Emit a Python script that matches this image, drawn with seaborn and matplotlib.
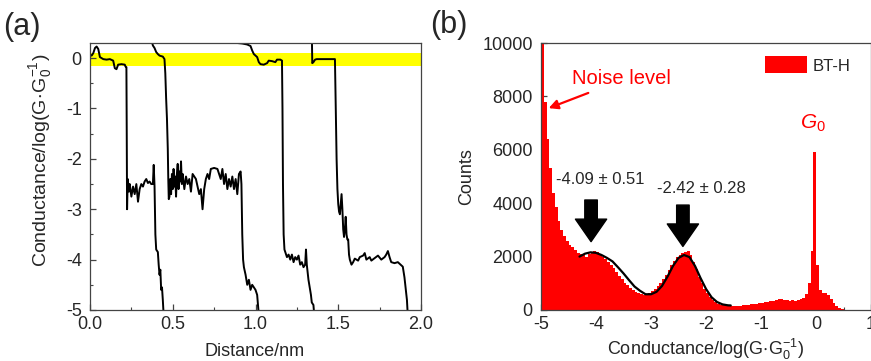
import numpy as np
import pandas as pd
import seaborn as sns
import matplotlib.pyplot as plt
from matplotlib.ticker import MultipleLocator

# --- (a) single traces: distance (nm) vs log(G/G0) ---
trace1_x = [0.00, 0.01, 0.02, 0.03, 0.04, 0.05, 0.06, 0.08, 0.10, 0.12, 0.14, 0.15, 0.16, 0.17, 0.19,
            0.21, 0.215, 0.22, 0.222, 0.224, 0.228, 0.235, 0.24, 0.25, 0.26, 0.27, 0.28, 0.29, 0.30,
            0.31, 0.32, 0.33, 0.34, 0.35, 0.36, 0.37, 0.38, 0.385, 0.39, 0.395, 0.40, 0.41, 0.415,
            0.42, 0.425, 0.43, 0.435, 0.44, 0.445]
trace1_y = [0.07, 0.05, 0.10, 0.20, 0.23, 0.18, 0.02, -0.02, -0.03, -0.02, -0.05, -0.20, -0.22, -0.13, -0.12,
            -0.13, -0.17, -0.18, -1.5, -3.0, -2.4, -2.65, -2.5, -2.75, -2.55, -2.7, -2.5, -2.85, -2.6,
            -2.5, -2.55, -2.45, -2.40, -2.48, -2.45, -2.50, -2.50, -2.12, -2.55, -3.5, -3.8, -3.85, -4.1,
            -4.3, -4.2, -4.6, -4.55, -4.8, -5.1]

trace2_x = [0.372, 0.38, 0.39, 0.40, 0.41, 0.42, 0.44, 0.45, 0.455, 0.46, 0.465, 0.47, 0.473, 0.476,
            0.48, 0.485, 0.49, 0.495, 0.50, 0.505, 0.51, 0.515, 0.52, 0.525, 0.53, 0.535, 0.54, 0.545,
            0.55, 0.555, 0.56, 0.57, 0.58, 0.59, 0.60, 0.61, 0.62, 0.63, 0.64, 0.65, 0.66, 0.67, 0.68,
            0.69, 0.70, 0.71, 0.72, 0.73, 0.75, 0.77, 0.78, 0.79, 0.80, 0.81, 0.82, 0.83, 0.84, 0.85,
            0.86, 0.87, 0.88, 0.89, 0.90, 0.91, 0.915, 0.92, 0.925, 0.93, 0.94, 0.95, 0.96, 0.97, 0.98,
            0.99, 1.00, 1.01, 1.015, 1.02]
trace2_y = [0.35, 0.25, 0.20, 0.12, 0.08, 0.05, 0.03, -0.02, -0.3, -0.8, -1.2, -1.8, -2.4, -2.8,
            -2.75, -2.4, -2.7, -2.3, -2.6, -2.2, -2.55, -2.35, -2.75, -2.3, -2.1, -2.6, -2.25, -2.45,
            -2.05, -2.5, -2.3, -2.6, -2.35, -2.5, -2.4, -2.65, -2.3, -2.35, -2.4, -2.55, -2.7, -2.6, -3.0,
            -2.6, -2.4, -2.3, -2.4, -2.2, -2.18, -2.2, -2.3, -2.4, -2.2, -2.5, -2.3, -2.6, -2.4, -2.55,
            -2.35, -2.6, -2.4, -2.7, -2.3, -2.25, -2.5, -3.5, -4.0, -4.15, -4.3, -4.5, -4.4, -4.6, -4.5,
            -4.55, -4.6, -4.7, -4.9, -5.1]

trace3_x = [0.86, 0.89, 0.92, 0.95, 0.97, 0.98, 0.99, 1.00, 1.01, 1.02, 1.03, 1.05, 1.07, 1.08, 1.10,
            1.12, 1.13, 1.15, 1.16, 1.163, 1.166, 1.17, 1.175, 1.18, 1.19, 1.20, 1.21, 1.22, 1.23, 1.24,
            1.25, 1.26, 1.27, 1.28, 1.29, 1.30, 1.305, 1.31, 1.315, 1.32, 1.33, 1.335, 1.34, 1.35, 1.355]
trace3_y = [0.32, 0.30, 0.29, 0.27, 0.24, 0.15, 0.08, 0.05, 0.02, -0.08, -0.12, -0.13, -0.10, -0.05, -0.06,
            -0.08, -0.03, -0.03, -0.05, -1.0, -2.5, -3.5, -3.8, -3.85, -3.95, -3.9, -4.0, -3.9, -4.05, -3.95,
            -4.0, -3.92, -4.1, -4.05, -4.15, -4.1, -3.8, -4.1, -4.25, -4.4, -4.6, -4.7, -4.85, -4.9, -5.1]

trace4_x = [1.341, 1.343, 1.35, 1.36, 1.37, 1.40, 1.43, 1.46, 1.48, 1.485, 1.49, 1.495, 1.50, 1.505,
            1.51, 1.52, 1.525, 1.53, 1.535, 1.54, 1.545, 1.55, 1.555, 1.56, 1.565, 1.57, 1.58, 1.59,
            1.60, 1.62, 1.63, 1.65, 1.66, 1.67, 1.69, 1.70, 1.72, 1.74, 1.76, 1.78, 1.79, 1.80, 1.81,
            1.82, 1.84, 1.86, 1.87, 1.89, 1.90, 1.905, 1.91, 1.915, 1.92]
trace4_y = [0.35, -0.10, -0.08, -0.03, -0.02, -0.02, -0.02, -0.02, -0.02, -1.0, -2.0, -2.6, -2.9, -3.05,
            -3.1, -2.7, -3.0, -3.4, -3.55, -3.4, -3.15, -3.5, -3.6, -3.6, -3.9, -4.0, -4.1, -4.05,
            -3.98, -4.02, -3.95, -3.92, -3.87, -4.0, -3.95, -4.02, -3.97, -3.92, -4.0, -3.95, -3.9, -3.83, -3.95,
            -4.05, -4.07, -4.05, -4.08, -4.14, -4.35, -4.5, -4.65, -4.8, -5.1]

traces = [(trace1_x, trace1_y), (trace2_x, trace2_y), (trace3_x, trace3_y), (trace4_x, trace4_y)]

# --- (b) 1D conductance histogram, 120 bins of 0.05 from -5 to 1 ---
hist_counts = [
    10300, 7800, 6400, 5300, 4400, 3850, 3350, 3000, 2780, 2600,   # -5.0 .. -4.5
    2450, 2350, 2250, 2150, 2080, 2050, 2000, 2080, 2150, 2200,    # -4.5 .. -4.0
    2180, 2100, 2000, 1900, 1800, 1680, 1560, 1420, 1290, 1150,    # -4.0 .. -3.5
    1020, 920, 830, 740, 680, 640, 600, 580, 600, 620,             # -3.5 .. -3.0
    700, 800, 900, 1000, 1150, 1320, 1500, 1680, 1850, 1980,       # -3.0 .. -2.5
    2050, 2120, 2180, 2200, 2050, 1800, 1550, 1250, 1000, 800,     # -2.5 .. -2.0
    620, 480, 380, 300, 240, 200, 180, 170, 160, 150,              # -2.0 .. -1.5
    150, 150, 160, 170, 180, 200, 210, 220, 240, 260,              # -1.5 .. -1.0
    280, 300, 290, 330, 350, 380, 400, 410, 380, 360,              # -1.0 .. -0.5
    340, 360, 350, 370, 400, 450, 600, 1000, 2200, 5900,           # -0.5 .. 0.0
    1700, 750, 640, 620, 560, 430, 260, 140, 60, 30,               # 0.0 .. 0.5
    10, 5, 0, 0, 0, 0, 0, 0, 0, 0,                                 # 0.5 .. 1.0
]
hist_centers = np.round(np.arange(-4.975, 1.0, 0.05), 3)
hist_df = pd.DataFrame({'G': hist_centers, 'n': hist_counts})

# two-gaussian fit
fit_x = [-4.30, -4.20, -4.10, -4.00, -3.90, -3.80, -3.70, -3.60, -3.50, -3.40, -3.30, -3.20, -3.10,
         -3.00, -2.90, -2.80, -2.70, -2.60, -2.50, -2.40, -2.30, -2.20, -2.10, -2.00, -1.90, -1.80,
         -1.70, -1.60, -1.55]
fit_y = [2000, 2110, 2160, 2140, 2060, 1950, 1820, 1600, 1370, 1120, 880, 720, 590,
         590, 680, 900, 1250, 1650, 1950, 2060, 1980, 1650, 1200, 790, 480, 300,
         210, 175, 170]

peak_pos = [-4.09, -2.42]
peak_labels = ["-4.09 ± 0.51", "-2.42 ± 0.28"]

sns.set_style("ticks")
plt.rcParams['font.family'] = ['Liberation Sans', 'DejaVu Sans']
plt.rcParams['mathtext.fontset'] = 'custom'
plt.rcParams['mathtext.rm'] = 'Liberation Sans'
plt.rcParams['mathtext.it'] = 'Liberation Sans:italic'
plt.rcParams['axes.unicode_minus'] = False
plt.rcParams['xtick.direction'] = 'in'
plt.rcParams['ytick.direction'] = 'in'

TICK_FZ = 13
LAB_FZ = 13
SPINE_C = '#444444'
ylab = r'Conductance/log$\mathregular{(G\!\cdot\!G_0^{-1})}$'

fig = plt.figure(figsize=(8.71, 3.61), dpi=100)
ax1 = fig.add_axes([90 / 871, 51 / 361, 331 / 871, 267 / 361])
ax2 = fig.add_axes([541 / 871, 51 / 361, 330 / 871, 267 / 361])

# ---------------- (a) ----------------
ax1.axhspan(-0.15, 0.10, color='#ffff00', lw=0, zorder=0)
for tx, ty in traces:
    sns.lineplot(x=tx, y=ty, color='black', lw=1.4, estimator=None, sort=False, ax=ax1)
ax1.set_xlim(0, 2.0)
ax1.set_ylim(-5, 0.3)
ax1.xaxis.set_major_locator(MultipleLocator(0.5))
ax1.xaxis.set_minor_locator(MultipleLocator(0.25))
ax1.yaxis.set_major_locator(MultipleLocator(1))
ax1.yaxis.set_minor_locator(MultipleLocator(0.5))
ax1.set_xticks([0, 0.5, 1.0, 1.5, 2.0])
ax1.set_xticklabels(['0.0', '0.5', '1.0', '1.5', '2.0'])
ax1.set_xlabel('Distance/nm', fontsize=LAB_FZ)
ax1.set_ylabel(ylab, fontsize=14)
ax1.xaxis.set_label_coords(0.498, -0.125)
ax1.yaxis.set_label_coords(-0.11, 0.56)

# ---------------- (b) ----------------
sns.histplot(data=hist_df, x='G', weights='n', bins=120, binrange=(-5, 1), color='#ff0000',
             edgecolor='none', alpha=1.0, linewidth=0, label='BT-H', ax=ax2)
sns.lineplot(x=fit_x, y=fit_y, color='black', lw=1.6, estimator=None, sort=False, ax=ax2)
ax2.set_xlim(-5, 1)
ax2.set_ylim(0, 10000)
ax2.xaxis.set_major_locator(MultipleLocator(1))
ax2.xaxis.set_minor_locator(MultipleLocator(0.5))
ax2.yaxis.set_major_locator(MultipleLocator(2000))
ax2.set_xlabel(ylab, fontsize=LAB_FZ)
ax2.set_ylabel('Counts', fontsize=LAB_FZ)
ax2.xaxis.set_label_coords(0.499, -0.1)
ax2.yaxis.set_label_coords(-0.2, 0.50)

ax2.text(-3.53, 8680, 'Noise level', color='#ff0000', fontsize=14.5, ha='center', va='center')
ax2.annotate('', xy=(-4.86, 7560), xytext=(-4.14, 8130),
             arrowprops=dict(arrowstyle='-|>,head_length=0.55,head_width=0.28', color='#ff0000',
                             lw=1.6, shrinkA=0, shrinkB=0))
ax2.text(-0.05, 6990, r'$\mathit{G}_\mathregular{0}$', color='#ff0000', fontsize=15,
         ha='center', va='center')

arrow_top = [4120, 3930]
arrow_tip = [2560, 2380]
text_y = [4870, 4560]
text_x = [-3.92, -2.09]
for px, top, tip, lab, tx_, ty_ in zip(peak_pos, arrow_top, arrow_tip, peak_labels, text_x, text_y):
    ax2.annotate('', xy=(px, tip), xytext=(px, top),
                 arrowprops=dict(arrowstyle='simple,head_length=0.9,head_width=1.25,tail_width=0.5',
                                 fc='black', ec='black', mutation_scale=18, shrinkA=0, shrinkB=0))
    ax2.text(tx_, ty_, lab, fontsize=12, ha='center', va='center')

ax2.legend(loc='upper left', bbox_to_anchor=(0.66, 0.975), frameon=False, fontsize=12,
           handlelength=2.5, handleheight=1.2, handletextpad=0.3, borderaxespad=0)

for ax in (ax1, ax2):
    ax.tick_params(axis='x', which='major', labelsize=TICK_FZ, length=4, width=0.9,
                   color=SPINE_C, top=False, pad=4)
    ax.tick_params(axis='y', which='major', labelsize=TICK_FZ, length=4, width=0.9,
                   color=SPINE_C, right=False, pad=6)
    ax.tick_params(axis='both', which='minor', length=2, width=0.8, color=SPINE_C,
                   top=False, right=False)
    for sp in ax.spines.values():
        sp.set_visible(True)
        sp.set_color(SPINE_C)
        sp.set_linewidth(0.9)

fig.text(22 / 871, 1 - 27 / 361, '(a)', fontsize=22, ha='center', va='center')
fig.text(449 / 871, 1 - 25 / 361, '(b)', fontsize=22, ha='center', va='center')

fig.savefig('out.png', dpi=100)
